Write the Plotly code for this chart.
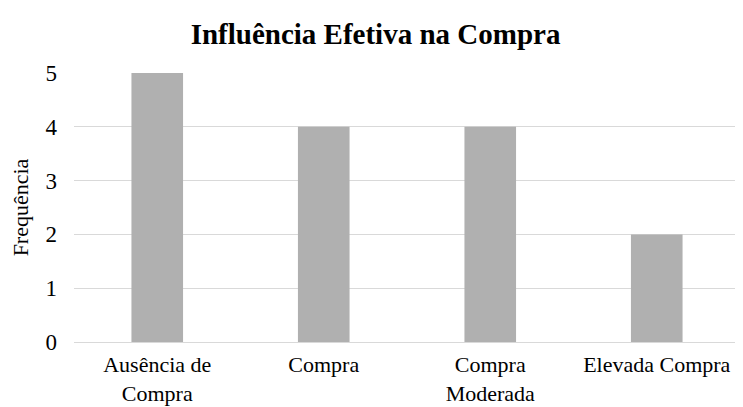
import plotly.graph_objects as go

categories = ["Ausência de<br>Compra", "Compra", "Compra<br>Moderada", "Elevada Compra"]
frequencias = [5, 4, 4, 2]
y_ticks = [0, 1, 2, 3, 4, 5]

FONT = "Liberation Serif, Times New Roman, serif"
BAR = "#B0B0B0"
GRID = "#D9D9D9"

fig = go.Figure(go.Bar(
    x=categories,
    y=frequencias,
    marker=dict(color=BAR, line=dict(width=0)),
    width=0.31,
))

# page body has an 8px margin, so the figure is sized to fit the window
fig.update_layout(
    width=735,
    height=399,
    font=dict(family=FONT, color="#000000", size=23),
    paper_bgcolor="white",
    plot_bgcolor="white",
    margin=dict(l=66, r=3, t=65, b=65),
    title=dict(
        text="<b>Influência Efetiva na Compra</b>",
        font=dict(size=29, family=FONT, color="#000000"),
        x=0.5, xanchor="center", y=0.935, yanchor="middle",
    ),
    showlegend=False,
)
fig.update_xaxes(
    showgrid=False,
    showline=True,
    linecolor=GRID,
    linewidth=1,
    ticks="",
    ticklabelstandoff=3,
    tickfont=dict(size=22),
    automargin=False,
)
fig.update_yaxes(
    range=[0, 5],
    tickvals=y_ticks,
    showgrid=True,
    gridcolor=GRID,
    gridwidth=1,
    zeroline=False,
    showline=False,
    ticks="",
    ticklabelstandoff=16,
    tickfont=dict(size=23),
    title=dict(text="Frequência", font=dict(size=22), standoff=12),
    automargin=False,
)

fig.write_html("out.html")
